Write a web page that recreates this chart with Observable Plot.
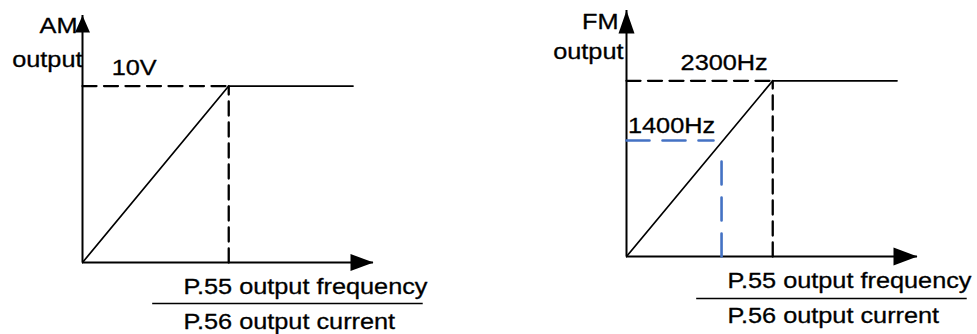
<!DOCTYPE html>
<html><head><meta charset="utf-8">
<script src="https://cdn.jsdelivr.net/npm/d3@7"></script>
<script src="https://cdn.jsdelivr.net/npm/@observablehq/plot@0.6"></script>
<style>
html,body{margin:0;padding:0;background:#fff;}
#wrap{position:relative;width:977px;height:334px;overflow:hidden;background:#fff;}
#wrap > div{position:absolute;top:0;}
svg text{font-family:"Liberation Sans",Arial,Helvetica,sans-serif;}
</style></head>
<body>
<div id="wrap"><div id="am" style="left:0px"></div><div id="fm" style="left:488px"></div></div>
<script>
// ---- data (diagram units: x = % of the P.55/P.56 full-scale setting, y = % of full output) ----
const panelNames = ["AM", "FM"];
const yAxisLabel = "output";
const kneeLabels = ["10V", "2300Hz"];
const xLabelTop = "P.55 output frequency";
const xLabelBottom = "P.56 output current";
const curveX = [0, 100, 185];
const curveY = [0, 100, 100];
const kneeX = 100;
const kneeY = 100;
const axisEndX = 199;
const axisEndY = 140;
// FM reference point (1400Hz), position
const refLabel = "1400Hz";
const refY = 66;
const refHEnd = 59.5;
const refX = 65;
const refVTop = 56;

const curve = curveX.map((x, i) => ({x, y: curveY[i]}));
const textStyle = {fontSize: 22, fill: "black", stroke: "black", strokeWidth: 0.3};

function panel(i, L) {
  const marks = [
    Plot.ruleX([0], {y1: 0, y2: axisEndY, strokeWidth: 2}),
    Plot.ruleY([0], {x1: 0, x2: axisEndX, strokeWidth: 2}),
    Plot.vector([{x: 0, y: axisEndY}], {x: "x", y: "y", length: L.yArrow[0], r: L.yArrow[1], rotate: 0, shape: "spike", anchor: "end", fill: "black", stroke: "none"}),
    Plot.vector([{x: axisEndX, y: 0}], {x: "x", y: "y", length: L.xArrow[0], r: L.xArrow[1], rotate: 90, shape: "spike", anchor: "end", fill: "black", stroke: "none"}),
    Plot.line(curve, {x: "x", y: "y", strokeWidth: 1.7, stroke: "black"}),
    Plot.line([{x: 0, y: kneeY}, {x: kneeX, y: kneeY}], {x: "x", y: "y", stroke: "black", strokeWidth: 2.3, strokeDasharray: "14,7.5"}),
    Plot.line([{x: kneeX, y: 0}, {x: kneeX, y: kneeY}], {x: "x", y: "y", stroke: "black", strokeWidth: 2.3, strokeDasharray: "14,7"}),
    Plot.text([{x: 0, y: axisEndY, t: panelNames[i]}], {x: "x", y: "y", text: "t", textAnchor: "end", lineAnchor: "bottom", dx: L.nameDx, dy: L.nameDy, ...textStyle}),
    Plot.text([{x: 0, y: axisEndY, t: yAxisLabel}], {x: "x", y: "y", text: "t", textAnchor: "end", lineAnchor: "bottom", dx: L.outDx, dy: L.outDy, ...textStyle}),
    Plot.text([{x: L.kneeLabelX, y: kneeY, t: kneeLabels[i]}], {x: "x", y: "y", text: "t", textAnchor: "start", lineAnchor: "bottom", dy: -11, ...textStyle}),
    Plot.text([{x: 69, y: 0, t: xLabelTop}], {x: "x", y: "y", text: "t", textAnchor: "start", lineAnchor: "bottom", dy: 31, ...textStyle}),
    Plot.ruleY([0], {x1: 48, x2: 233, dy: L.sepDy, strokeWidth: 1.6, stroke: "black"}),
    Plot.text([{x: 69, y: 0, t: xLabelBottom}], {x: "x", y: "y", text: "t", textAnchor: "start", lineAnchor: "bottom", dy: 66, ...textStyle})
  ];
  if (L.ref) {
    marks.push(
      Plot.line([{x: 0, y: refY}, {x: refHEnd, y: refY}], {x: "x", y: "y", stroke: "#4472C4", strokeWidth: 2.6, strokeDasharray: "23,13"}),
      Plot.line([{x: refX, y: 0}, {x: refX, y: refVTop}], {x: "x", y: "y", stroke: "#4472C4", strokeWidth: 2.6, strokeDasharray: "23,13"}),
      Plot.text([{x: 1, y: refY, t: refLabel}], {x: "x", y: "y", text: "t", textAnchor: "start", lineAnchor: "bottom", dy: -8, ...textStyle})
    );
  }
  const svg = Plot.plot({
    width: L.width, height: 334,
    marginLeft: L.ml, marginRight: L.mr, marginTop: L.mt, marginBottom: L.mb,
    x: {domain: [0, axisEndX], axis: null},
    y: {domain: [0, axisEndY], axis: null},
    marks
  });
  // the reference lettering is a horizontally widened sans-serif
  svg.querySelectorAll("text").forEach((t) => {
    const tr = t.getAttribute("transform");
    if (tr && tr.includes("translate")) t.setAttribute("transform", tr + " scale(1.15,1)");
  });
  return svg;
}

document.getElementById("am").append(panel(0, {
  width: 488, ml: 82, mr: 115, mt: 15, mb: 72,
  yArrow: [17, 7.5], xArrow: [23, 8.5],
  nameDx: -5, nameDy: 17, outDx: 0, outDy: 51,
  kneeLabelX: 20, sepDy: 41, ref: false
}));
document.getElementById("fm").append(panel(1, {
  width: 489, ml: 138, mr: 60, mt: 10, mb: 78,
  yArrow: [23, 8], xArrow: [24, 9],
  nameDx: -8, nameDy: 18, outDx: -3, outDy: 48,
  kneeLabelX: 37, sepDy: 42, ref: true
}));
</script>
</body></html>
